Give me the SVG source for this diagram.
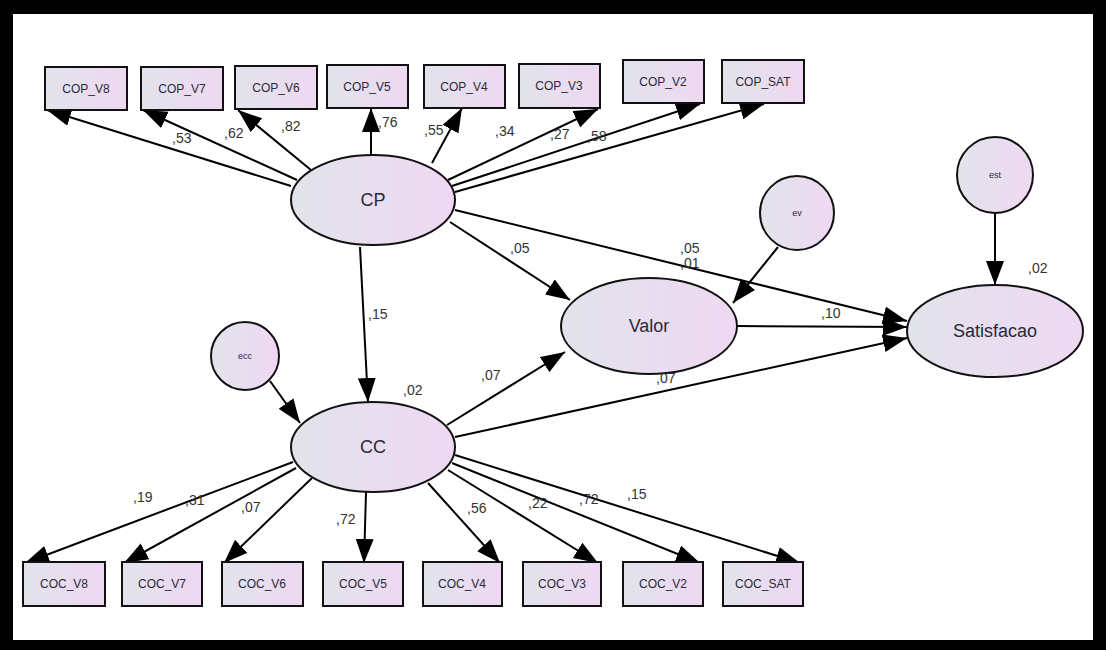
<svg xmlns="http://www.w3.org/2000/svg" width="1106" height="650" viewBox="0 0 1106 650">
<defs>
<linearGradient id="g" x1="0" y1="0" x2="1" y2="0">
<stop offset="0" stop-color="#e1e3eb"/>
<stop offset="1" stop-color="#efd8f3"/>
</linearGradient>
<marker id="ah" markerUnits="userSpaceOnUse" markerWidth="26" markerHeight="20" refX="24" refY="9" orient="auto">
<path d="M0,0 L24,9 L0,18 z" fill="#000"/>
</marker>
<style>
.box{fill:url(#g);stroke:#111;stroke-width:2}
.lat{fill:url(#g);stroke:#111;stroke-width:2}
.bt{font-family:"Liberation Sans",Arial,sans-serif;font-size:12px;fill:#2a2a35;text-anchor:middle}
.lt{font-family:"Liberation Sans",Arial,sans-serif;font-size:18px;fill:#2a2a35;text-anchor:middle}
.et{font-family:"Liberation Sans",Arial,sans-serif;font-size:9px;fill:#2a2a35;text-anchor:middle}
.w{font-family:"Liberation Sans",Arial,sans-serif;font-size:14px;fill:#333}
.c line{stroke:#000;stroke-width:2;marker-end:url(#ah)}
</style>
</defs>
<rect x="0" y="0" width="1106" height="650" fill="#000"/>
<rect x="13" y="14" width="1080" height="626" fill="#fff"/>

<g class="c" id="connectors">
<line x1="291" y1="186" x2="47" y2="110"/>
<line x1="297" y1="180" x2="143" y2="110"/>
<line x1="311" y1="170" x2="238" y2="110"/>
<line x1="371" y1="155" x2="371" y2="108"/>
<line x1="432" y1="163" x2="462" y2="108"/>
<line x1="448" y1="180" x2="598" y2="109"/>
<line x1="452" y1="186" x2="700" y2="104"/>
<line x1="455" y1="192" x2="764" y2="104"/>
<line x1="360" y1="247" x2="368" y2="402"/>
<line x1="450" y1="222" x2="570" y2="300"/>
<line x1="455" y1="210" x2="907" y2="321"/>
<line x1="778" y1="247" x2="733" y2="303"/>
<line x1="995" y1="213" x2="995" y2="285"/>
<line x1="270" y1="381" x2="300" y2="423"/>
<line x1="447" y1="425" x2="565" y2="352"/>
<line x1="737" y1="326" x2="907" y2="327"/>
<line x1="455" y1="437" x2="907" y2="338"/>
<line x1="293" y1="462" x2="25" y2="563"/>
<line x1="296" y1="468" x2="124" y2="563"/>
<line x1="312" y1="478" x2="224" y2="563"/>
<line x1="366" y1="492" x2="364" y2="563"/>
<line x1="428" y1="483" x2="500" y2="563"/>
<line x1="448" y1="470" x2="598" y2="563"/>
<line x1="452" y1="463" x2="700" y2="563"/>
<line x1="455" y1="455" x2="800" y2="563"/>
</g>

<g id="COP_V8"><rect class="box" x="45" y="67" width="82" height="43"/><text class="bt" x="86" y="93">COP_V8</text></g>
<g id="COP_V7"><rect class="box" x="141" y="67" width="82" height="43"/><text class="bt" x="182" y="93">COP_V7</text></g>
<g id="COP_V6"><rect class="box" x="235" y="66" width="82" height="43"/><text class="bt" x="276" y="92">COP_V6</text></g>
<g id="COP_V5"><rect class="box" x="327" y="65" width="81" height="43"/><text class="bt" x="367" y="91">COP_V5</text></g>
<g id="COP_V4"><rect class="box" x="424" y="65" width="81" height="43"/><text class="bt" x="464" y="91">COP_V4</text></g>
<g id="COP_V3"><rect class="box" x="519" y="64" width="81" height="44"/><text class="bt" x="559" y="90">COP_V3</text></g>
<g id="COP_V2"><rect class="box" x="623" y="60" width="81" height="43"/><text class="bt" x="663" y="86">COP_V2</text></g>
<g id="COP_SAT"><rect class="box" x="722" y="60" width="82" height="43"/><text class="bt" x="763" y="86">COP_SAT</text></g>

<g id="COC_V8"><rect class="box" x="23" y="562" width="82" height="44"/><text class="bt" x="64" y="588">COC_V8</text></g>
<g id="COC_V7"><rect class="box" x="122" y="562" width="80" height="44"/><text class="bt" x="162" y="588">COC_V7</text></g>
<g id="COC_V6"><rect class="box" x="222" y="562" width="81" height="44"/><text class="bt" x="262" y="588">COC_V6</text></g>
<g id="COC_V5"><rect class="box" x="323" y="562" width="80" height="44"/><text class="bt" x="363" y="588">COC_V5</text></g>
<g id="COC_V4"><rect class="box" x="423" y="562" width="79" height="44"/><text class="bt" x="462" y="588">COC_V4</text></g>
<g id="COC_V3"><rect class="box" x="523" y="562" width="78" height="44"/><text class="bt" x="562" y="588">COC_V3</text></g>
<g id="COC_V2"><rect class="box" x="623" y="562" width="80" height="44"/><text class="bt" x="663" y="588">COC_V2</text></g>
<g id="COC_SAT"><rect class="box" x="723" y="562" width="80" height="44"/><text class="bt" x="763" y="588">COC_SAT</text></g>

<g id="CP"><ellipse class="lat" cx="373" cy="200" rx="82" ry="45"/><text class="lt" x="373" y="206">CP</text></g>
<g id="CC"><ellipse class="lat" cx="373" cy="447" rx="82" ry="45"/><text class="lt" x="373" y="453">CC</text></g>
<g id="Valor"><ellipse class="lat" cx="649" cy="326" rx="88" ry="48"/><text class="lt" x="649" y="332">Valor</text></g>
<g id="Satisfacao"><ellipse class="lat" cx="995" cy="331" rx="88" ry="46"/><text class="lt" x="995" y="337">Satisfacao</text></g>
<g id="ev"><circle class="lat" cx="797" cy="213" r="37"/><text class="et" x="797" y="216">ev</text></g>
<g id="est"><circle class="lat" cx="995" cy="175" r="38"/><text class="et" x="995" y="178">est</text></g>
<g id="ecc"><circle class="lat" cx="245" cy="356" r="34"/><text class="et" x="245" y="359">ecc</text></g>

<g id="labels">
<text class="w" x="172" y="143">,53</text>
<text class="w" x="224" y="138">,62</text>
<text class="w" x="281" y="131">,82</text>
<text class="w" x="378" y="127">,76</text>
<text class="w" x="424" y="135">,55</text>
<text class="w" x="495" y="136">,34</text>
<text class="w" x="550" y="139">,27</text>
<text class="w" x="587" y="141">,58</text>
<text class="w" x="510" y="253">,05</text>
<text class="w" x="680" y="253">,05</text>
<text class="w" x="680" y="268">,01</text>
<text class="w" x="368" y="319">,15</text>
<text class="w" x="403" y="395">,02</text>
<text class="w" x="481" y="380">,07</text>
<text class="w" x="821" y="318">,10</text>
<text class="w" x="656" y="383">,07</text>
<text class="w" x="1028" y="273">,02</text>
<text class="w" x="133" y="502">,19</text>
<text class="w" x="185" y="505">,31</text>
<text class="w" x="241" y="512">,07</text>
<text class="w" x="336" y="524">,72</text>
<text class="w" x="467" y="513">,56</text>
<text class="w" x="528" y="508">,22</text>
<text class="w" x="579" y="504">,72</text>
<text class="w" x="627" y="499">,15</text>
</g>
</svg>
